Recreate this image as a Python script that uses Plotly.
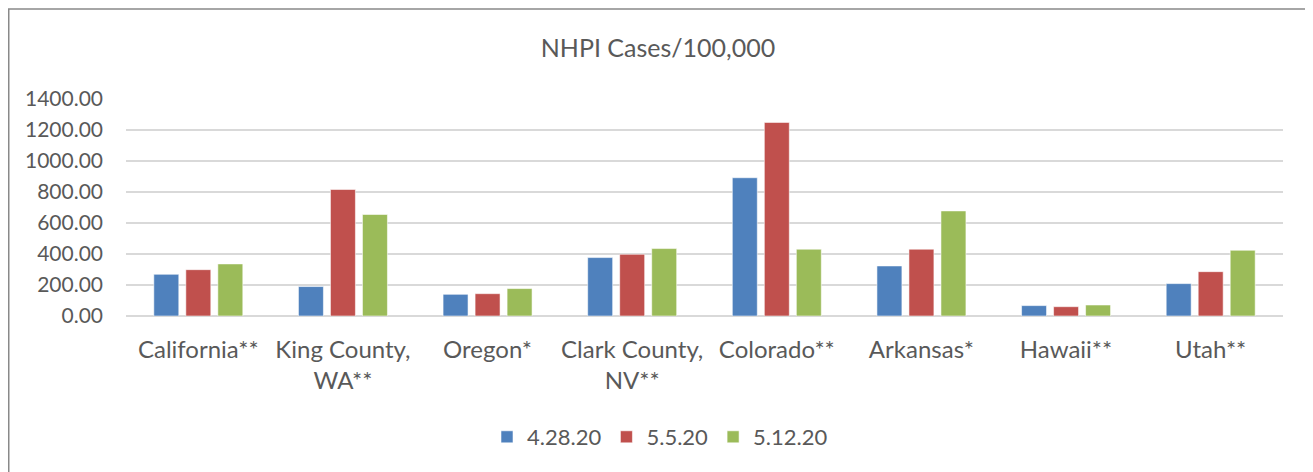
import plotly.graph_objects as go

categories = ["California**", "King County,<br>WA**", "Oregon*", "Clark County,<br>NV**",
              "Colorado**", "Arkansas*", "Hawaii**", "Utah**"]
series_names = ["4.28.20", "5.5.20", "5.12.20"]
v_0428 = [269, 190, 140, 377, 892, 323, 67, 209]
v_0505 = [299, 816, 144, 398, 1249, 431, 60, 286]
v_0512 = [336, 655, 177, 435, 431, 678, 71, 424]
colors = ["#4F81BD", "#C0504D", "#9BBB59"]

FONT = "Lato"
TXT = "#595959"

fig = go.Figure()
for name, vals, col in zip(series_names, [v_0428, v_0505, v_0512], colors):
    fig.add_trace(go.Bar(
        x=categories, y=vals, name=name,
        marker=dict(color=col, line=dict(color="rgba(255,255,255,0.55)", width=1)),
    ))

# page body has an 8px margin; positions below are in figure coordinates
OFF = 8
W, H = 1313, 472
L, R, T, B = 126 - OFF, 30 + OFF, 99 - OFF, 156 + OFF
pw, ph = W - L - R, H - T - B

def px_x(p):
    return (p - OFF - L) / pw

def px_y(p):
    return (H - B - (p - OFF)) / ph

fig.update_layout(
    width=W, height=H, autosize=False,
    margin=dict(l=L, r=R, t=T, b=B, autoexpand=False),
    paper_bgcolor="white", plot_bgcolor="white",
    barmode="group", bargap=0.336, bargroupgap=0.22,
    font=dict(family=FONT, size=20, color=TXT),
    title=dict(text="NHPI Cases/100,000", x=px_x(658), xref="paper", xanchor="center",
               y=1 - (48 - OFF) / H, yanchor="middle",
               font=dict(family=FONT, size=25, color=TXT)),
    legend=dict(orientation="h", x=px_x(660), xanchor="center",
                y=px_y(437), yanchor="middle",
                font=dict(family=FONT, size=22, color=TXT),
                itemclick=False, traceorder="normal"),
    showlegend=True,
    xaxis=dict(showgrid=False, showline=False, zeroline=False, ticks="",
               tickangle=0, automargin=False,
               tickfont=dict(family=FONT, size=24, color=TXT),
               ticklabelstandoff=17, fixedrange=True),
    yaxis=dict(range=[0, 1400], dtick=200, tickformat=".2f", automargin=False,
               showgrid=True, gridcolor="#D9D9D9", gridwidth=1.5,
               zeroline=True, zerolinecolor="#D9D9D9", zerolinewidth=1.5,
               showline=False, ticks="",
               tickfont=dict(family=FONT, size=21, color=TXT),
               ticklabelstandoff=22, fixedrange=True),
    shapes=[dict(type="rect", xref="paper", yref="paper",
                 x0=px_x(OFF + 0.75), x1=px_x(1310), y0=px_y(H + 20), y1=px_y(9),
                 line=dict(color="#898989", width=1.5), fillcolor="rgba(0,0,0,0)",
                 layer="below")],
)

fig.write_html("out.html")
